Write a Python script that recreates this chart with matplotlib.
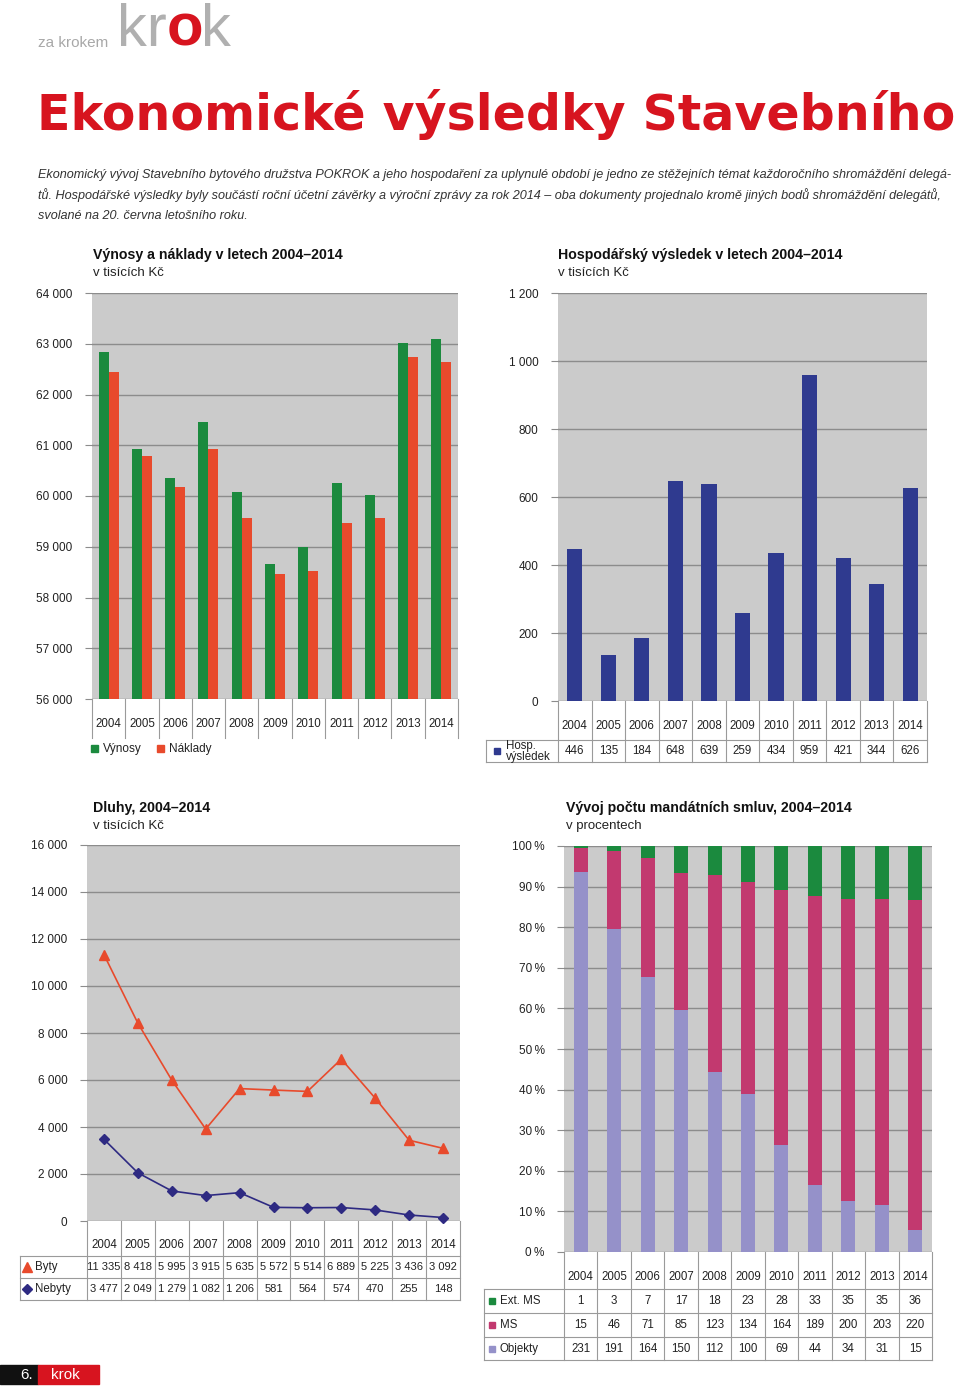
import numpy as np
import matplotlib
matplotlib.use('Agg')
import matplotlib.pyplot as plt
from matplotlib.patches import Rectangle

plt.rcParams['font.family'] = ['Liberation Sans', 'DejaVu Sans']

# ---- data ----
years = ['2004', '2005', '2006', '2007', '2008', '2009', '2010', '2011', '2012', '2013', '2014']

# Výnosy a náklady (v tisících Kč)
vynosy = [62840, 60930, 60350, 61460, 60080, 58660, 59000, 60260, 60020, 63010, 63090]
naklady = [62440, 60790, 60180, 60930, 59570, 58460, 58520, 59470, 59570, 62740, 62640]

# Hospodářský výsledek
hosp = [446, 135, 184, 648, 639, 259, 434, 959, 421, 344, 626]

# Dluhy
byty = [11335, 8418, 5995, 3915, 5635, 5572, 5514, 6889, 5225, 3436, 3092]
nebyty = [3477, 2049, 1279, 1082, 1206, 581, 564, 574, 470, 255, 148]

# Mandátní smlouvy
ext_ms = [1, 3, 7, 17, 18, 23, 28, 33, 35, 35, 36]
ms = [15, 46, 71, 85, 123, 134, 164, 189, 200, 203, 220]
objekty = [231, 191, 164, 150, 112, 100, 69, 44, 34, 31, 15]

GREEN = '#1b8a3e'
ORANGE = '#e84a2c'
NAVY = '#2f3a8f'
DNAVY = '#2e2a82'
LILAC = '#9591c9'
MAGENTA = '#c2396f'
RED = '#d7141f'
BG = '#cbcbcb'
GRID = '#8c8c8c'
TXT = '#222222'
LINE = '#9a9a9a'

W, H = 960, 1389
fig = plt.figure(figsize=(W / 100, H / 100), dpi=100)


def box(x0, y0, x1, y1):
    return [x0 / W, 1 - y1 / H, (x1 - x0) / W, (y1 - y0) / H]


ov = fig.add_axes([0, 0, 1, 1], zorder=5)
ov.set_xlim(0, W)
ov.set_ylim(H, 0)
ov.axis('off')


def sep(v):
    return f'{v:,}'.replace(',', ' ')


def style_ax(ax, ticks, labels):
    ax.set_facecolor(BG)
    ax.set_axisbelow(True)
    for s in ax.spines.values():
        s.set_visible(False)
    ax.set_yticks(ticks)
    ax.set_yticklabels(labels, fontsize=8.5, color=TXT)
    ax.tick_params(axis='y', length=5, color=GRID, pad=9)
    ax.set_xticks([])
    ax.grid(axis='y', color=GRID, lw=1.0)
    ax.set_xlim(-0.5, len(years) - 0.5)


def col_edges(x0, x1):
    return np.linspace(x0, x1, len(years) + 1)


def chart_title(x, y, t, sub):
    ov.text(x, y, t, fontsize=10.2, fontweight='bold', color='#111111', va='center')
    ov.text(x, y + 18, sub, fontsize=9.5, color=TXT, va='center')


# ---- header ----
ov.text(38, 47, 'za krokem', fontsize=11, color='#a8a8a8', va='baseline')
ov.text(117, 46, 'kr', fontsize=43, color='#b0b0b0', va='baseline')
ov.text(167, 46, 'o', fontsize=43, color=RED, va='baseline', fontweight='bold')
ov.text(201, 46, 'k', fontsize=43, color='#b0b0b0', va='baseline')

ov.text(37, 130, 'Ekonomické výsledky Stavebního', fontsize=35.3, fontweight='bold',
        family='DejaVu Sans', color=RED, va='baseline')

para = ['Ekonomický vývoj Stavebního bytového družstva POKROK a jeho hospodaření za uplynulé období je jedno ze stěžejních témat každoročního shromáždění delegá-',
        'tů. Hospodářské výsledky byly součástí roční účetní závěrky a výroční zprávy za rok 2014 – oba dokumenty projednalo kromě jiných bodů shromáždění delegátů,',
        'svolané na 20. června letošního roku.']
for i, line in enumerate(para):
    ov.text(38, 175 + i * 20.5, line, fontsize=9.05, style='italic', color='#333333', va='center')

# ---- chart 1: Výnosy a náklady ----
x = np.arange(len(years))
ax1 = fig.add_axes(box(92, 293, 458, 699))
ax1.bar(x - 0.15, vynosy, 0.3, color=GREEN)
ax1.bar(x + 0.15, naklady, 0.3, color=ORANGE)
style_ax(ax1, range(56000, 64001, 1000), [sep(v) for v in range(56000, 64001, 1000)])
ax1.set_ylim(56000, 64000)
chart_title(93, 255, 'Výnosy a náklady v letech 2004–2014', 'v tisících Kč')

e = col_edges(92, 458)
for xe in e:
    ov.plot([xe, xe], [699, 738], color=LINE, lw=0.8)
for i, yr in enumerate(years):
    ov.text((e[i] + e[i + 1]) / 2, 724, yr, fontsize=8.3, ha='center', va='center', color=TXT)
ov.add_patch(Rectangle((91, 745), 7, 7, color=GREEN))
ov.text(103, 749, 'Výnosy', fontsize=8.5, va='center', color=TXT)
ov.add_patch(Rectangle((157, 745), 7, 7, color=ORANGE))
ov.text(169, 749, 'Náklady', fontsize=8.5, va='center', color=TXT)

# ---- chart 2: Hospodářský výsledek ----
ax2 = fig.add_axes(box(558, 293, 927, 701))
ax2.bar(x, hosp, 0.45, color=NAVY)
style_ax(ax2, range(0, 1201, 200), [sep(v) for v in range(0, 1201, 200)])
ax2.set_ylim(0, 1200)
chart_title(558, 255, 'Hospodářský výsledek v letech 2004–2014', 'v tisících Kč')

e = col_edges(558, 927)
for xe in e:
    ov.plot([xe, xe], [701, 762], color=LINE, lw=0.8)
ov.plot([486, 927], [740, 740], color=LINE, lw=0.8)
ov.plot([486, 927], [762, 762], color=LINE, lw=0.8)
ov.plot([486, 486], [740, 762], color=LINE, lw=0.8)
for i, yr in enumerate(years):
    xc = (e[i] + e[i + 1]) / 2
    ov.text(xc, 726, yr, fontsize=8.3, ha='center', va='center', color=TXT)
    ov.text(xc, 751, str(hosp[i]), fontsize=8.3, ha='center', va='center', color=TXT)
ov.add_patch(Rectangle((494, 748), 6, 6, color=NAVY))
ov.text(506, 751.5, 'Hosp.\nvýsledek', fontsize=8.3, va='center', color=TXT, linespacing=0.85)

# ---- chart 3: Dluhy ----
ax3 = fig.add_axes(box(87, 845, 460, 1221))
ax3.plot(x, byty, color=ORANGE, lw=1.2, marker='^', ms=7, clip_on=False)
ax3.plot(x, nebyty, color=DNAVY, lw=1.2, marker='D', ms=5.5, clip_on=False)
style_ax(ax3, range(0, 16001, 2000), [sep(v) for v in range(0, 16001, 2000)])
ax3.set_ylim(0, 16000)
chart_title(93, 808, 'Dluhy, 2004–2014', 'v tisících Kč')

e = col_edges(87, 460)
for xe in e:
    ov.plot([xe, xe], [1221, 1300], color=LINE, lw=0.8)
for yy in (1256, 1278, 1300):
    ov.plot([20, 460], [yy, yy], color=LINE, lw=0.8)
ov.plot([20, 20], [1256, 1300], color=LINE, lw=0.8)
for i, yr in enumerate(years):
    xc = (e[i] + e[i + 1]) / 2
    ov.text(xc, 1245, yr, fontsize=8.3, ha='center', va='center', color=TXT)
    ov.text(xc, 1267, sep(byty[i]), fontsize=8.0, ha='center', va='center', color=TXT)
    ov.text(xc, 1289, sep(nebyty[i]), fontsize=8.0, ha='center', va='center', color=TXT)
ov.plot([27], [1267], marker='^', color=ORANGE, ms=7)
ov.text(35, 1267, 'Byty', fontsize=8.3, va='center', color=TXT)
ov.plot([27], [1289], marker='D', color=DNAVY, ms=5)
ov.text(35, 1289, 'Nebyty', fontsize=8.3, va='center', color=TXT)

# ---- chart 4: Vývoj počtu mandátních smluv ----
tot = np.array(ext_ms) + np.array(ms) + np.array(objekty)
p_obj = np.array(objekty) / tot * 100
p_ms = np.array(ms) / tot * 100
p_ext = np.array(ext_ms) / tot * 100
ax4 = fig.add_axes(box(564, 846, 932, 1252))
ax4.bar(x, p_obj, 0.42, color=LILAC)
ax4.bar(x, p_ms, 0.42, bottom=p_obj, color=MAGENTA)
ax4.bar(x, p_ext, 0.42, bottom=p_obj + p_ms, color=GREEN)
style_ax(ax4, range(0, 101, 10), [f'{v}\u2009%' for v in range(0, 101, 10)])
ax4.set_ylim(0, 100)
chart_title(566, 808, 'Vývoj počtu mandátních smluv, 2004–2014', 'v procentech')

e = col_edges(564, 932)
for xe in e:
    ov.plot([xe, xe], [1252, 1360], color=LINE, lw=0.8)
for yy in (1289, 1313, 1337, 1360):
    ov.plot([484, 932], [yy, yy], color=LINE, lw=0.8)
ov.plot([484, 484], [1289, 1360], color=LINE, lw=0.8)
rows = [('Ext. MS', ext_ms, GREEN), ('MS', ms, MAGENTA), ('Objekty', objekty, LILAC)]
for i, yr in enumerate(years):
    xc = (e[i] + e[i + 1]) / 2
    ov.text(xc, 1277, yr, fontsize=8.3, ha='center', va='center', color=TXT)
    for r, (name, vals, c) in enumerate(rows):
        ov.text(xc, 1301 + r * 24, str(vals[i]), fontsize=8.3, ha='center', va='center', color=TXT)
for r, (name, vals, c) in enumerate(rows):
    ov.add_patch(Rectangle((489, 1298 + r * 24), 6, 6, color=c))
    ov.text(500, 1301 + r * 24, name, fontsize=8.3, va='center', color=TXT)

# ---- footer ----
ov.add_patch(Rectangle((0, 1365), 38, 19, color='#111111'))
ov.add_patch(Rectangle((38, 1365), 61, 19, color=RED))
ov.text(33, 1375, '6.', fontsize=11, color='white', ha='right', va='center')
ov.text(51, 1375, 'krok', fontsize=11, color='white', va='center')

fig.savefig('out.png', dpi=100, facecolor='white')
